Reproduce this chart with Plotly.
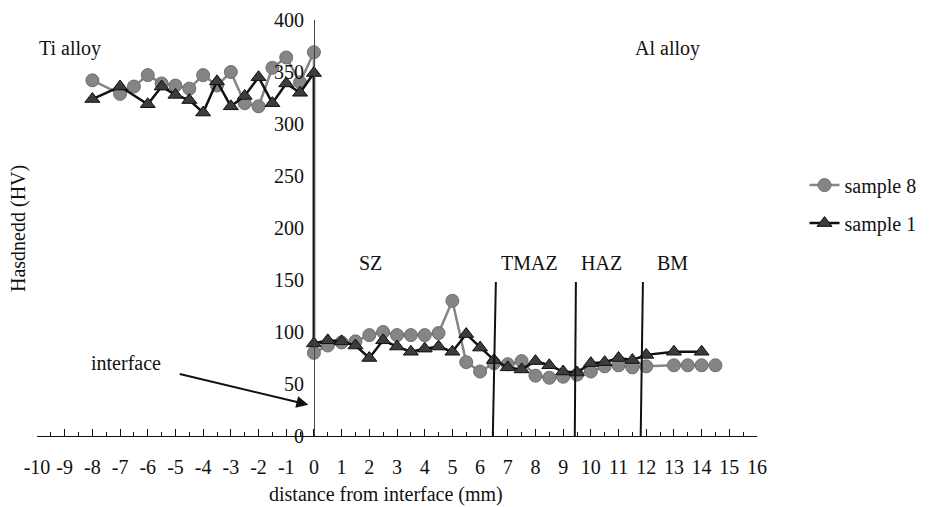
import plotly.graph_objects as go

# ---- data ----
s8_x = [-8, -7, -6.5, -6, -5.5, -5, -4.5, -4, -3.5, -3, -2.5, -2, -1.5, -1, -0.5, 0,
        0, 0.5, 1, 1.5, 2, 2.5, 3, 3.5, 4, 4.5, 5, 5.5, 6, 6.5, 7, 7.5, 8, 8.5, 9, 9.5,
        10, 10.5, 11, 11.5, 12, 13, 13.5, 14, 14.5]
s8_y = [342, 329, 336, 347, 339, 337, 334, 347, 337, 350, 320, 317, 354, 364, 340, 369,
        80, 87, 90, 91, 97, 100, 97, 97, 97, 99, 130, 71, 62, 70, 69, 72, 58, 56, 57, 59,
        62, 67, 68, 66, 67, 68, 68, 68, 68]

s1_x = [-8, -7, -6, -5.5, -5, -4.5, -4, -3.5, -3, -2.5, -2, -1.5, -1, -0.5, 0,
        0, 0.5, 1, 1.5, 2, 2.5, 3, 3.5, 4, 4.5, 5, 5.5, 6, 6.5, 7, 7.5, 8, 8.5, 9, 9.5,
        10, 10.5, 11, 11.5, 12, 13, 14]
s1_y = [324, 336, 319, 336, 328, 323, 311, 341, 317, 327, 345, 320, 339, 330, 349,
        89, 92, 91, 87, 75, 92, 86, 81, 84, 86, 81, 98, 85, 73, 66, 64, 72, 68, 62, 61,
        70, 71, 75, 73, 78, 81, 81]

x_ticks = list(range(-10, 17))
x_tick_text = [str(v) for v in x_ticks]
y_ticks = list(range(0, 401, 50))

# zone boundaries (bottom x, top x, top y) and labels
zone_lines = [(6.46, 6.57, 148), (9.42, 9.46, 148), (11.8, 11.88, 148)]
zone_labels = ["SZ", "TMAZ", "HAZ", "BM"]
zone_label_x = [2.05, 7.8, 10.4, 12.95]
zone_label_y = 166

FONT = "Liberation Serif"

fig = go.Figure()
fig.add_trace(go.Scatter(
    x=s8_x, y=s8_y, mode="lines+markers", name="sample 8",
    legendgroup="a",
    line=dict(color="#858585", width=2.5),
    marker=dict(symbol="circle", size=13, color="#858585",
                line=dict(color="#6e6e6e", width=1)),
))
fig.add_trace(go.Scatter(
    x=s1_x, y=s1_y, mode="lines+markers", name="sample 1",
    legendgroup="b",
    line=dict(color="#111111", width=2.5),
    marker=dict(symbol="triangle-up", size=13, color="#3c3c3c",
                line=dict(color="#111111", width=1)),
))

for (xb, xt, yt) in zone_lines:
    fig.add_shape(type="line", x0=xb, y0=0, x1=xt, y1=yt, xref="x", yref="y",
                  line=dict(color="#111111", width=2))

for lab, lx in zip(zone_labels, zone_label_x):
    fig.add_annotation(x=lx, y=zone_label_y, text=lab, showarrow=False,
                       font=dict(family=FONT, size=20, color="#111"))

fig.add_annotation(x=-10, y=373, text="Ti alloy", showarrow=False, xanchor="left",
                   font=dict(family=FONT, size=20, color="#111"))
fig.add_annotation(x=12.77, y=373, text="Al alloy", showarrow=False,
                   font=dict(family=FONT, size=20, color="#111"))
fig.add_annotation(x=-6.8, y=70, text="interface", showarrow=False,
                   font=dict(family=FONT, size=20, color="#111"))
fig.add_annotation(x=-0.2, y=30, ax=-4.9, ay=60, xref="x", yref="y", axref="x", ayref="y",
                   text="", showarrow=True, arrowhead=2, arrowsize=1.2, arrowwidth=2,
                   arrowcolor="#111")
fig.add_annotation(xref="paper", yref="paper", x=-0.0264, y=0.5, text="Hasdnedd (HV)",
                   textangle=-90, showarrow=False, xanchor="center", yanchor="middle",
                   font=dict(family=FONT, size=20, color="#111"))
fig.add_annotation(xref="paper", yref="paper", x=0.485, y=-0.14, yanchor="middle",
                   text="distance from interface (mm)", showarrow=False,
                   font=dict(family=FONT, size=20, color="#111"))

fig.update_layout(
    width=945, height=507,
    margin=dict(l=37, r=188, t=20, b=71),
    paper_bgcolor="white", plot_bgcolor="white",
    font=dict(family=FONT, size=20, color="#111"),
    showlegend=True,
    legend=dict(x=1.066, y=0.65, xanchor="left", yanchor="top",
                tracegroupgap=9, traceorder="grouped",
                font=dict(family=FONT, size=20, color="#111"),
                bgcolor="rgba(0,0,0,0)"),
    xaxis=dict(range=[-10, 16], tickvals=x_ticks, ticktext=x_tick_text, tickangle=0,
               showgrid=False, zeroline=False, automargin=False,
               showline=True, linecolor="#111", linewidth=1.2,
               ticks="inside", ticklen=7, tickcolor="#111", tickwidth=1.2,
               minor=dict(dtick=0.5, ticks="inside", ticklen=4, tickcolor="#111", tickwidth=1.2),
               ticklabelstandoff=13,
               tickfont=dict(family=FONT, size=20, color="#111")),
    yaxis=dict(range=[0, 400], tickvals=y_ticks, showgrid=False, zeroline=False,
               anchor="free", position=10 / 26, automargin=False,
               showline=True, linecolor="#444", linewidth=1,
               ticks="", ticklabelstandoff=6,
               tickfont=dict(family=FONT, size=20, color="#111")),
)

fig.write_html("out.html", config={"displayModeBar": False},
               post_script="document.body.style.margin='0';document.body.style.overflow='hidden';")
